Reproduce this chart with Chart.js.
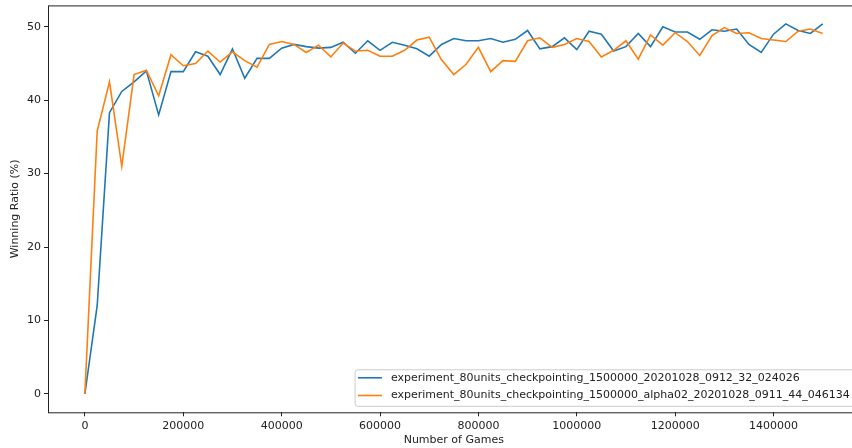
<!DOCTYPE html>
<html>
<head>
<meta charset="utf-8">
<script src="https://cdn.jsdelivr.net/npm/chart.js@4/dist/chart.umd.min.js"></script>
<style>
  html, body { margin: 0; padding: 0; background: #fff; overflow: hidden; }
  #wrap { width: 870px; height: 448px; }
</style>
</head>
<body>
<div id="wrap"><canvas id="c" width="870" height="448"></canvas></div>
<script>
// Number of games played at each evaluation checkpoint
const games = [
  0, 25000, 50000, 75000, 100000, 125000, 150000, 175000, 200000, 225000,
  250000, 275000, 300000, 325000, 350000, 375000, 400000, 425000, 450000, 475000,
  500000, 525000, 550000, 575000, 600000, 625000, 650000, 675000, 700000, 725000,
  750000, 775000, 800000, 825000, 850000, 875000, 900000, 925000, 950000, 975000,
  1000000, 1025000, 1050000, 1075000, 1100000, 1125000, 1150000, 1175000, 1200000, 1225000,
  1250000, 1275000, 1300000, 1325000, 1350000, 1375000, 1400000, 1425000, 1450000, 1475000,
  1500000
];

// Winning ratio (%) per run
const runBase = [
  0, 12.0, 38.3, 41.2, 42.5, 44.0, 38.0, 43.9, 43.9, 46.6,
  46.0, 43.5, 47.0, 43.0, 45.7, 45.7, 47.1, 47.6, 47.3, 47.1,
  47.2, 47.9, 46.4, 48.1, 46.8, 47.9, 47.5, 47.0, 46.0, 47.6,
  48.4, 48.1, 48.1, 48.4, 47.9, 48.3, 49.5, 47.0, 47.3, 48.5,
  46.9, 49.4, 49.0, 46.7, 47.3, 49.1, 47.3, 50.0, 49.3, 49.3,
  48.3, 49.6, 49.4, 49.7, 47.6, 46.5, 49.0, 50.4, 49.5, 49.1,
  50.4
];
const runAlpha = [
  0, 35.8, 42.5, 31.0, 43.5, 44.1, 40.6, 46.2, 44.7, 45.0,
  46.7, 45.2, 46.6, 45.4, 44.5, 47.6, 48.0, 47.6, 46.5, 47.5,
  45.9, 47.8, 46.7, 46.8, 46.0, 46.0, 46.8, 48.2, 48.6, 45.5,
  43.5, 44.9, 47.2, 43.9, 45.4, 45.3, 48.1, 48.5, 47.2, 47.6,
  48.4, 48.0, 45.9, 46.8, 48.1, 45.6, 48.9, 47.5, 49.2, 48.0,
  46.1, 48.8, 49.9, 49.1, 49.2, 48.4, 48.2, 48.0, 49.4, 49.7,
  49.1
];

const seriesNames = [
  'experiment_80units_checkpointing_1500000_20201028_0912_32_024026',
  'experiment_80units_checkpointing_1500000_alpha02_20201028_0911_44_046134'
];

const xTicks = [0, 200000, 400000, 600000, 800000, 1000000, 1200000, 1400000];
const yTicks = [0, 10, 20, 30, 40, 50];

const FONT = 'DejaVu Sans';
const FS = 11;

const toPoints = vals => vals.map((v, i) => ({ x: games[i], y: v }));

// Frame around the whole plotting area
const frame = {
  id: 'frame',
  afterDatasetsDraw(chart) {
    const { ctx, chartArea: a } = chart;
    ctx.save();
    ctx.strokeStyle = '#222';
    ctx.lineWidth = 1;
    ctx.strokeRect(a.left + 0.5, a.top + 0.5, a.right - a.left, a.bottom - a.top);
    ctx.restore();
  }
};

// Legend box in the lower-right corner of the plot
const cornerLegend = {
  id: 'cornerLegend',
  afterDraw(chart) {
    const { ctx, chartArea: a } = chart;
    const sets = chart.data.datasets;
    ctx.save();
    ctx.font = FS + 'px "' + FONT + '"';
    const textW = Math.max(...sets.map(d => ctx.measureText(d.label).width));
    const padL = 3.3, padR = 4.5, handle = 24, gap = 9, rowH = 17.7;
    const right = a.right - 5.25;
    const bottom = a.bottom - 6.5;
    const top = bottom - 36.5;
    const left = right - padR - textW - gap - handle - padL;
    ctx.fillStyle = 'rgba(255,255,255,0.8)';
    ctx.strokeStyle = '#cccccc';
    ctx.lineWidth = 1;
    ctx.beginPath();
    ctx.roundRect(left + 0.5, top + 0.5, right - left, bottom - top, 2.5);
    ctx.fill();
    ctx.stroke();
    sets.forEach((d, i) => {
      const y = top + 8.5 + rowH * i;
      ctx.strokeStyle = d.borderColor;
      ctx.lineWidth = 1.6;
      ctx.beginPath();
      ctx.moveTo(left + padL, y);
      ctx.lineTo(left + padL + handle, y);
      ctx.stroke();
      ctx.fillStyle = '#222';
      ctx.textBaseline = 'middle';
      ctx.textAlign = 'left';
      ctx.fillText(d.label, left + padL + handle + gap, y);
    });
    ctx.restore();
  }
};

new Chart(document.getElementById('c'), {
  type: 'line',
  data: {
    datasets: [
      {
        label: seriesNames[0],
        data: toPoints(runBase),
        borderColor: '#1f77b4',
        borderWidth: 1.6,
        pointRadius: 0,
        tension: 0,
        fill: false,
        order: 1
      },
      {
        label: seriesNames[1],
        data: toPoints(runAlpha),
        borderColor: '#ff7f0e',
        borderWidth: 1.6,
        pointRadius: 0,
        tension: 0,
        fill: false,
        order: 0
      }
    ]
  },
  options: {
    responsive: false,
    animation: false,
    devicePixelRatio: 1,
    layout: { padding: { left: 0, top: 5.4, right: 10.4, bottom: 0 } },
    plugins: {
      legend: { display: false },
      tooltip: { enabled: false }
    },
    scales: {
      x: {
        type: 'linear',
        min: -75000,
        max: 1575000,
        afterBuildTicks: s => { s.ticks = xTicks.map(v => ({ value: v })); },
        afterFit: s => { s.height = 35.7; s.paddingLeft = 0; s.paddingRight = 0; },
        grid: { drawOnChartArea: false, drawTicks: true, tickLength: 4, color: '#222' },
        border: { display: false },
        ticks: {
          autoSkip: false,
          maxRotation: 0,
          padding: 3,
          color: '#222',
          font: { family: FONT, size: FS },
          callback: v => String(v)
        },
        title: {
          display: true,
          text: 'Number of Games',
          color: '#222',
          font: { family: FONT, size: FS },
          padding: { top: 0, bottom: 1.5 }
        }
      },
      y: {
        type: 'linear',
        min: -2.52,
        max: 52.92,
        afterBuildTicks: s => { s.ticks = yTicks.map(v => ({ value: v })); },
        afterFit: s => { s.width = 48; s.paddingTop = 0; s.paddingBottom = 0; },
        grid: { drawOnChartArea: false, drawTicks: true, tickLength: 4, color: '#222' },
        border: { display: false },
        ticks: {
          padding: 3,
          color: '#222',
          font: { family: FONT, size: FS },
          callback: v => String(v)
        },
        title: {
          display: true,
          text: 'Winning Ratio (%)',
          color: '#222',
          font: { family: FONT, size: FS },
          padding: { top: 9, bottom: 0 }
        }
      }
    }
  },
  plugins: [frame, cornerLegend]
});
</script>
</body>
</html>
